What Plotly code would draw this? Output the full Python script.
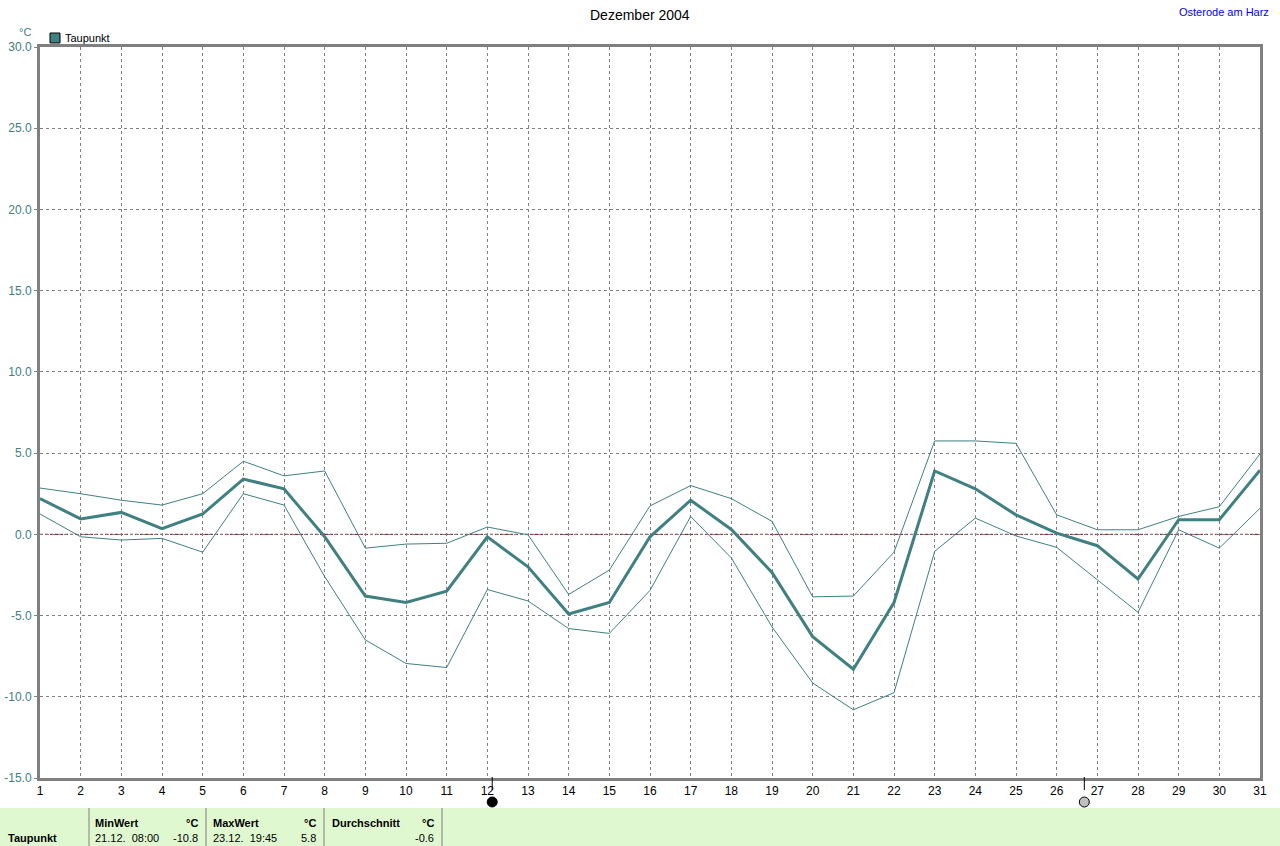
import plotly.graph_objects as go

days = list(range(1, 32))
mean_vals = [2.2, 0.95, 1.35, 0.35, 1.25, 3.4, 2.8, -0.15, -3.8, -4.2, -3.5, -0.15, -2.0, -4.9, -4.2,
             -0.15, 2.1, 0.3, -2.35, -6.3, -8.3, -4.2, 3.9, 2.8, 1.2, 0.07, -0.7, -2.75, 0.9, 0.9, 3.95]
max_vals = [2.85, 2.5, 2.1, 1.8, 2.5, 4.5, 3.6, 3.9, -0.85, -0.6, -0.55, 0.45, -0.03, -3.7, -2.2,
            1.75, 3.0, 2.2, 0.8, -3.85, -3.8, -1.1, 5.75, 5.75, 5.6, 1.2, 0.28, 0.28, 1.1, 1.7, 4.95]
min_vals = [1.25, -0.15, -0.35, -0.25, -1.1, 2.5, 1.8, -2.6, -6.5, -7.95, -8.2, -3.4, -4.1, -5.8, -6.1,
            -3.45, 1.1, -1.45, -5.7, -9.15, -10.8, -9.75, -1.05, 1.0, -0.1, -0.8, -2.8, -4.8, 0.28, -0.85, 1.6]

moon_x = [12.12, 26.68]
moon_fill = ["black", "#c0c0c0"]

TEAL = "#408080"
FONT = "Liberation Sans"

# plot area geometry in pixels
L, R, T, B = 40, 1260, 47, 778
W, H = R - L, B - T

def px(x):
    return (x - L) / W

def py(y):
    return (B - y) / H

fig = go.Figure()
for vals, w in [(max_vals, 1), (min_vals, 1), (mean_vals, 3)]:
    fig.add_trace(go.Scatter(x=days, y=vals, mode="lines", line=dict(color=TEAL, width=w),
                             showlegend=False, hoverinfo="skip"))

shapes = []
# zero line
shapes.append(dict(type="line", xref="paper", yref="y", x0=0, x1=1, y0=0, y1=0,
                   line=dict(color="#800000", width=1, dash="3px,2px"), layer="below"))
# moon ticks & circles
for mx, fc in zip(moon_x, moon_fill):
    shapes.append(dict(type="line", xref="x", yref="paper", x0=mx, x1=mx, y0=py(777), y1=py(790),
                       line=dict(color="black", width=1)))
    shapes.append(dict(type="circle", xref="x", yref="paper", xsizemode="pixel", ysizemode="pixel",
                       xanchor=mx, yanchor=py(802), x0=-5, x1=5, y0=-5, y1=5,
                       fillcolor=fc, line=dict(color="black", width=1)))
# bottom table background
shapes.append(dict(type="rect", xref="paper", yref="paper", x0=px(0), x1=px(1280), y0=py(808), y1=py(846),
                   fillcolor="#e0f8d0", line=dict(width=0), layer="below"))
for sx in [89, 206, 324, 442]:
    shapes.append(dict(type="line", xref="paper", yref="paper", x0=px(sx), x1=px(sx), y0=py(808), y1=py(846),
                       line=dict(color="#808080", width=1)))
# legend box
shapes.append(dict(type="rect", xref="paper", yref="paper", x0=px(50), x1=px(60), y0=py(33), y1=py(43),
                   fillcolor=TEAL, line=dict(color="black", width=1)))

ann = []
def text(t, x, y, anchor="left", size=12, color="black", bold=False):
    ann.append(dict(text=("<b>%s</b>" % t) if bold else t, x=px(x), y=py(y), xref="paper", yref="paper",
                    xanchor=anchor, yanchor="middle", showarrow=False,
                    font=dict(family=FONT, size=size, color=color)))

text("Dezember 2004", 640, 15, "center", 14)
text("Osterode am Harz", 1271, 12, "right", 11, "#0000ff")
text("°C", 25, 32, "center", 11, TEAL)
text("Taupunkt", 63, 38, "left", 11)
text("Taupunkt", 6, 838, "left", 11, bold=True)
text("MinWert", 93, 823, "left", 11, bold=True)
text("°C", 200, 823, "right", 11, bold=True)
text("21.12.  08:00", 93, 838, "left", 11)
text("-10.8", 200, 838, "right", 11)
text("MaxWert", 211, 823, "left", 11, bold=True)
text("°C", 318, 823, "right", 11, bold=True)
text("23.12.  19:45", 211, 838, "left", 11)
text("5.8", 318, 838, "right", 11)
text("Durchschnitt", 330, 823, "left", 11, bold=True)
text("°C", 436, 823, "right", 11, bold=True)
text("-0.6", 436, 838, "right", 11)

fig.update_layout(
    width=1280, height=846,
    margin=dict(l=L, r=1280 - R, t=T, b=846 - B, pad=0),
    paper_bgcolor="white", plot_bgcolor="white",
    font=dict(family=FONT, size=12, color="black"),
    shapes=shapes, annotations=ann, showlegend=False,
    xaxis=dict(range=[1, 31], tickmode="array", tickvals=days, ticktext=[str(d) for d in days],
               showgrid=True, gridcolor="#808080", griddash="3px,3px", gridwidth=1,
               showline=True, linecolor="#808080", linewidth=3, mirror=True, automargin=False,
               ticks="", zeroline=False, tickfont=dict(size=12, color="black")),
    yaxis=dict(range=[-15, 30], tickmode="array", tickvals=[-15, -10, -5, 0, 5, 10, 15, 20, 25, 30],
               ticktext=["-15.0", "-10.0", "-5.0", "0.0", "5.0", "10.0", "15.0", "20.0", "25.0", "30.0"],
               showgrid=True, gridcolor="#808080", griddash="3px,3px", gridwidth=1,
               showline=True, linecolor="#808080", linewidth=3, mirror=True, automargin=False,
               ticks="outside", ticklen=3, tickcolor="#808080", zeroline=False,
               tickfont=dict(size=12, color=TEAL)),
)

fig.write_html("out.html", config={"displayModeBar": False},
               post_script="document.body.style.margin='0';document.body.style.overflow='hidden';")
